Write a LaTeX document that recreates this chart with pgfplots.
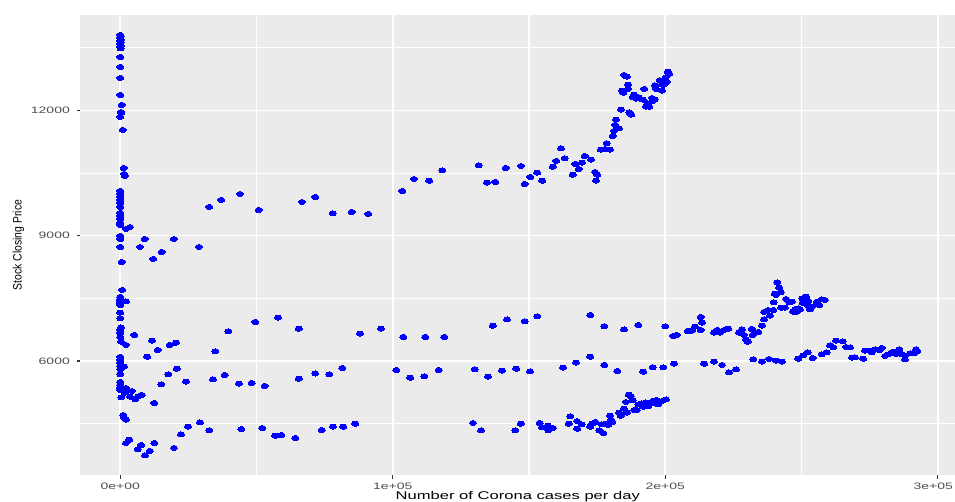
\documentclass[border=0pt]{standalone}
\usepackage{fontspec}
\setmainfont{Liberation Sans}
\usepackage{pgfplots}
\pgfplotsset{compat=1.18}
\definecolor{panelbg}{HTML}{EBEBEB}
\definecolor{ticktext}{HTML}{4D4D4D}
\definecolor{tickcol}{HTML}{333333}
\definecolor{ptblue}{HTML}{0000FF}

\pgfplotstableread{
x y
0 13802
100 13766
0 13730
200 13694
0 13658
100 13622
0 13587
200 13551
0 13515
100 13479
0 13275
0 13036
0 12773
0 12366
500 12127
300 11959
300 11935
0 11840
900 11529
1250 10619
1350 10476
1700 10428
0 10069
0 9997
0 9925
0 9854
0 9782
0 9686
0 9543
0 9471
0 9399
0 9303
0 9255
2100 9160
3550 9207
0 8992
0 8920
0 8729
500 8370
7230 8729
8950 8920
12110 8442
15190 8609
19700 8920
28880 8729
32620 9686
37000 9854
43930 9997
50790 9614
66680 9806
71560 9925
77950 9535
84920 9566
91010 9519
103490 10069
107780 10356
113400 10315
118170 10564
131530 10684
134580 10268
137630 10284
141440 10619
147060 10667
148420 10236
150470 10404
153040 10507
154870 10315
158690 10650
160010 10787
161730 11091
163090 10851
166030 10459
166980 10715
168230 10595
169440 10746
170430 10906
172740 10818
174210 10523
175060 10459
174580 10315
176310 11058
177880 11074
179720 11058
178510 11210
180710 11385
181190 11505
181670 11648
181920 11775
183020 11569
183760 12014
184230 12469
184600 12421
184860 12845
185850 12804
186330 12613
186330 12510
186800 11952
187540 11895
188050 12311
188530 12373
189260 12278
190250 12311
191720 12254
192310 12510
192930 12086
193550 12167
194140 12086
195130 12294
195130 12215
196120 12263
196230 12598
196600 12510
197960 12718
198690 12613
198800 12469
199430 12613
200160 12789
200640 12677
200900 12924
201480 12869
700 7700
0 7532
0 7484
0 7437
0 7389
0 7341
2090 7429
0 7157
0 7023
260 6807
0 6743
0 6671
0 6575
260 6463
2090 6384
5140 6623
11630 6487
13730 6264
9910 6104
18130 6384
20330 6439
39640 6711
34870 6233
49550 6934
57880 7037
65470 6774
0 6097
0 6025
0 5953
0 5881
0 5809
1360 5864
0 5683
0 5498
0 5426
0 5355
0 5307
2090 5355
370 5132
1720 5242
4290 5283
3560 5146
5510 5084
6610 5156
7850 5187
12480 4996
15050 5443
17620 5682
20700 5816
24110 5505
34020 5562
38310 5665
43560 5457
48220 5474
52990 5403
65470 5577
71560 5701
1100 4708
1470 4644
2090 4596
24850 4428
29250 4534
22280 4247
32660 4342
44410 4373
52110 4397
56890 4213
59090 4230
64230 4158
2090 4038
3300 4117
7710 3991
6390 3888
10790 3847
9060 3744
12480 4038
19710 3919
87970 6654
95680 6774
103860 6575
111930 6575
118910 6575
136670 6845
141920 6998
148410 6950
153040 7070
172490 7101
177630 6831
184860 6759
190110 6862
76700 5682
81470 5833
101290 5785
106430 5601
111570 5634
116850 5785
130060 5802
134940 5625
140080 5769
145330 5817
150360 5754
162470 5841
167240 5960
172490 6104
177630 5905
182400 5761
191940 5745
73910 4349
78060 4428
81840 4428
86250 4500
129440 4517
132380 4342
144970 4342
146950 4500
153920 4517
154760 4414
156860 4453
157080 4342
158800 4397
164560 4500
165150 4677
167610 4565
167720 4380
169330 4486
172490 4428
173220 4500
174320 4541
175790 4342
177260 4277
176670 4486
178250 4500
179090 4470
179720 4692
179970 4589
180560 4541
183130 4764
183650 4692
184860 4860
185590 5020
185960 4764
186580 5194
187310 5163
188050 5067
188530 4828
189520 4828
190110 4964
191350 4988
191940 4907
192930 5012
193770 4924
195390 5044
196230 4988
196850 5067
197440 4964
198430 5026
199530 5067
200270 5084
200015 6831
202950 6599
204200 6623
208240 6718
209710 6726
210920 6822
213010 7054
213490 6917
213010 6743
217890 6678
219100 6743
220090 6678
221560 6743
223140 6774
227170 6678
228160 6759
228900 6623
229630 6520
230250 6463
231720 6767
232090 6623
232930 6678
234150 6695
235500 6846
236240 6999
236240 7173
237700 7221
238440 7085
239650 7221
239800 7405
240170 7611
240640 7580
241120 7884
241850 7755
242370 7645
242590 7276
243950 7276
244310 7484
245520 7405
246510 7420
246990 7180
247610 7238
248230 7180
248820 7262
249450 7238
250290 7501
251650 7540
250440 7396
252500 7437
252500 7317
253120 7238
253740 7300
255580 7413
256530 7341
257410 7477
258620 7460
195390 5850
199280 5850
203210 5936
214330 5936
217890 5984
220830 5905
223390 5730
225960 5802
232310 6041
235500 5984
238070 6049
240640 6008
242840 5984
248820 6056
250660 6137
252270 6209
254110 6073
257410 6161
259240 6209
260460 6376
261670 6328
262660 6487
265120 6472
266330 6336
267800 6329
268530 6080
269630 6089
272680 6056
273300 6247
275140 6247
275760 6209
276970 6281
278550 6264
279430 6312
280640 6120
281850 6161
283100 6199
283940 6223
284680 6168
285890 6280
286770 6168
287980 6120
287980 6041
289820 6185
291290 6185
292020 6280
292500 6240
}\stockdata

\begin{document}
\begin{tikzpicture}
\begin{axis}[
  at={(60.375pt,20.25pt)}, anchor=south west,
  scale only axis, width=655.875pt, height=345pt,
  xmin=-14600, xmax=306335, ymin=3273, ymax=14280,
  scaled ticks=false,
  axis line style={draw=none},
  axis background/.style={fill=panelbg},
  xtick={0,100000,200000,300000},
  xticklabels={0e+00,1e+05,2e+05,\kern-4.5pt 3e+05},
  ytick={6000,9000,12000},
  yticklabels={6000,9000,12000},
  minor xtick={50000,150000,250000},
  minor ytick={4500,7500,10500,13500},
  grid=both,
  major x grid style={white, line width=1.5pt},
  major y grid style={white, line width=1.05pt},
  minor x grid style={white, line width=0.8pt},
  minor y grid style={white, line width=0.6pt},
  tick align=outside, tick pos=left,
  major tick length=2.7pt, minor tick length=0pt,
  tick style={tickcol, line width=0.8pt},
  tick label style={font=\fontsize{7}{8}\selectfont, text=ticktext, xscale=1.5},
  xlabel={Number of Corona cases per day},
  ylabel={Stock Closing Price},
  xlabel style={at={(axis description cs:0.5,-0.0533)}, anchor=base, font=\fontsize{8.4}{10}\selectfont, xscale=1.48},
  ylabel style={at={(axis description cs:-0.0709,0.5)}, anchor=center, font=\fontsize{7.8}{9}\selectfont, yscale=1.17},
  clip=true,
]
\addplot[only marks, color=ptblue, mark=*, mark size=1.9pt, mark options={draw=ptblue, fill=ptblue, line width=0pt, xscale=1.4}] table[x=x, y=y] {\stockdata};
\end{axis}
\pgfresetboundingbox
\path[use as bounding box] (0,0) rectangle (716.25pt,376.5pt);
\end{tikzpicture}
\end{document}
